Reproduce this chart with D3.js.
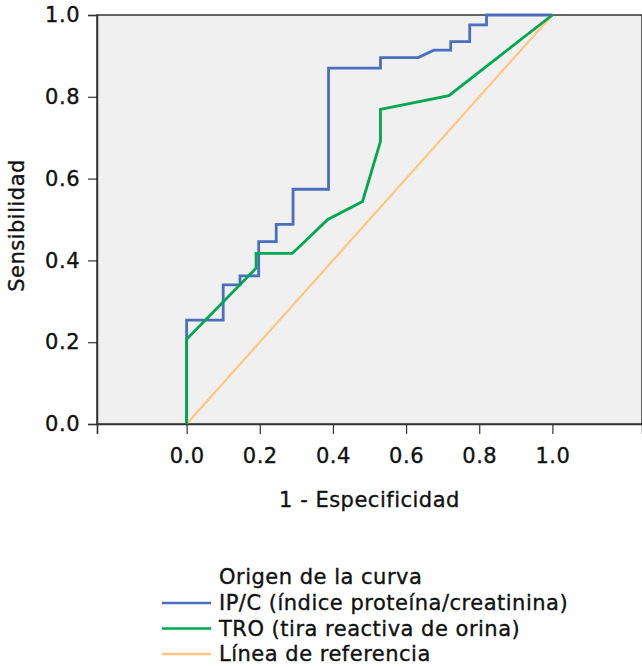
<!DOCTYPE html>
<html>
<head>
<meta charset="utf-8">
<script src="https://cdn.jsdelivr.net/npm/d3@7"></script>
<style>
body { margin: 0; background: #fff; }
svg text { font-family: "DejaVu Sans", sans-serif; fill: #111; stroke: #111; stroke-width: 0.35px; letter-spacing: 0.5px; }
</style>
</head>
<body>
<svg id="chart" width="642" height="667"></svg>
<script>
// IP/C curve (step)
var ipcX = [0, 0, 0.100, 0.100, 0.146, 0.146, 0.197, 0.197, 0.245, 0.245, 0.291, 0.291, 0.388, 0.388, 0.530, 0.530, 0.633, 0.676, 0.722, 0.722, 0.774, 0.774, 0.820, 0.820, 1];
var ipcY = [0, 0.254, 0.254, 0.340, 0.340, 0.362, 0.362, 0.446, 0.446, 0.488, 0.488, 0.574, 0.574, 0.870, 0.870, 0.896, 0.896, 0.914, 0.914, 0.935, 0.935, 0.976, 0.976, 1, 1];

// TRO curve
var troX = [0, 0, 0.190, 0.190, 0.289, 0.386, 0.481, 0.530, 0.530, 0.717, 1];
var troY = [0, 0.207, 0.381, 0.417, 0.417, 0.500, 0.544, 0.691, 0.769, 0.803, 1];

// reference line
var refX = [0, 1];
var refY = [0, 1];

var xTicks = [0, 0.2, 0.4, 0.6, 0.8, 1.0];
var yTicks = [0, 0.2, 0.4, 0.6, 0.8, 1.0];

var series = [
	{name: "Línea de referencia", xs: refX, ys: refY, color: "#ffc77d", width: 2.2},
	{name: "IP/C (índice proteína/creatinina)", xs: ipcX, ys: ipcY, color: "#4a6fbe", width: 2.8},
	{name: "TRO (tira reactiva de orina)", xs: troX, ys: troY, color: "#00a84f", width: 2.8}
];
var legendOrder = [1, 2, 0];

var svg = d3.select("#chart");
var pLeft = 97, pRight = 642, pTop = 15, pBottom = 424;

var x = d3.scaleLinear().domain([-0.245, 1.245]).range([pLeft, pRight]);
var y = d3.scaleLinear().domain([0, 1]).range([pBottom, pTop]);

svg.append("rect")
	.attr("x", pLeft).attr("y", pTop)
	.attr("width", pRight - pLeft).attr("height", pBottom - pTop)
	.attr("fill", "#f0f0f0")
	.attr("stroke", "#333").attr("stroke-width", 1.5);

var line = d3.line()
	.x(function(d) { return x(d[0]); })
	.y(function(d) { return y(d[1]); });

series.forEach(function(s) {
	var pts = s.xs.map(function(v, i) { return [v, s.ys[i]]; });
	svg.append("path")
		.datum(pts)
		.attr("d", line)
		.attr("fill", "none")
		.attr("stroke", s.color)
		.attr("stroke-width", s.width)
		.attr("stroke-linejoin", "miter");
});

// axes
var xAxis = svg.append("g")
	.attr("transform", "translate(0," + pBottom + ")")
	.call(d3.axisBottom(x)
		.tickValues([x.domain()[0]].concat(xTicks))
		.tickSize(10)
		.tickPadding(14)
		.tickFormat(function(d) { return d < 0 ? "" : d3.format(".1f")(d); }));

var yAxis = svg.append("g")
	.attr("transform", "translate(" + pLeft + ",0)")
	.call(d3.axisLeft(y)
		.tickValues(yTicks)
		.tickSize(9)
		.tickPadding(8)
		.tickFormat(d3.format(".1f")));

[xAxis, yAxis].forEach(function(g) {
	g.select(".domain").attr("stroke", "#333").attr("stroke-width", 1.5);
	g.selectAll(".tick line").attr("stroke", "#333").attr("stroke-width", 1.2);
	g.selectAll(".tick text").attr("font-size", "21px").style("fill", "#111");
});

svg.append("text")
	.attr("x", (pLeft + pRight) / 2).attr("y", 507)
	.attr("text-anchor", "middle")
	.attr("font-size", "21px")
	.text("1 - Especificidad");

svg.append("text")
	.attr("transform", "translate(24," + ((pTop + pBottom) / 2 + 6) + ") rotate(-90)")
	.attr("text-anchor", "middle")
	.attr("font-size", "21px")
	.text("Sensibilidad");

// legend
var legend = svg.append("g");
legend.append("text")
	.attr("x", 219).attr("y", 584)
	.attr("font-size", "21px")
	.text("Origen de la curva");

legendOrder.forEach(function(k, i) {
	var s = series[k];
	var yy = 610 + i * 25.5;
	legend.append("line")
		.attr("x1", 162).attr("x2", 211)
		.attr("y1", yy - 7).attr("y2", yy - 7)
		.attr("stroke", s.color)
		.attr("stroke-width", 2.5);
	legend.append("text")
		.attr("x", 219).attr("y", yy)
		.attr("font-size", "21px")
		.text(s.name);
});
</script>
</body>
</html>
